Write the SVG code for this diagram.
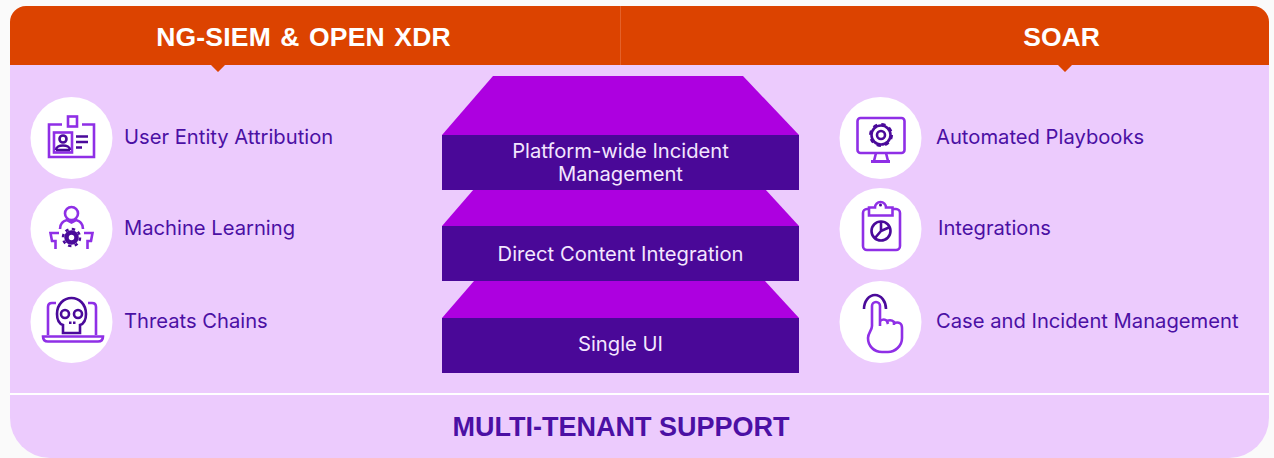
<svg xmlns="http://www.w3.org/2000/svg" width="1274" height="458" viewBox="0 0 1274 458">
<style>
.head{font-family:"Liberation Sans",Arial,sans-serif;font-weight:700;font-size:26.5px;fill:#fff;text-anchor:middle}
.lab{font-family:Inter,"Liberation Sans",sans-serif;font-size:20.2px;fill:#4b10a4}
.stk{font-family:Inter,"Liberation Sans",sans-serif;font-size:20.2px;fill:#f3e6ff;text-anchor:middle}
.top{fill:#ad00e0}.front{fill:#4a0898}
.c{fill:#fff}
.p{fill:none;stroke:#8f2fe6;stroke-width:2.6}
.d{fill:none;stroke:#4a0a9a;stroke-width:2.6}
</style>
<rect width="1274" height="458" fill="#fafafa"/>
<g id="panel">
<path d="M10 60H1269V418a40 40 0 0 1-40 40H50a40 40 0 0 1-40-40Z" fill="#eccbfd"/>
<rect x="10" y="393" width="1259" height="2" fill="#fff"/>
<path d="M10 65V22a16 16 0 0 1 16-16H1253a16 16 0 0 1 16 16V65Z" fill="#dc4300"/>
<path d="M211 65h14l-7 7ZM1058 65h14l-7 7Z" fill="#dc4300"/>
<rect x="620" y="6" width="1" height="59" fill="#e4612a"/>
<text class="head" x="303.500" y="46" letter-spacing="0.200" word-spacing="1.800">NG-SIEM &amp; OPEN XDR</text>
<text class="head" x="1061.500" y="46">SOAR</text>
<text x="621" y="436" font-family="'Liberation Sans',Arial,sans-serif" font-weight="700" font-size="27" fill="#4b10a4" text-anchor="middle">MULTI-TENANT SUPPORT</text>
</g>
<g id="stack">
<g id="layer-3"><path class="top" d="M442 318 474 281H765L799 318Z"/><rect class="front" x="442" y="318" width="357" height="55"/><text class="stk" x="620.500" y="351">Single UI</text></g>
<g id="layer-2"><path class="top" d="M442 226 474 189H765L799 226Z"/><rect class="front" x="442" y="226" width="357" height="55"/><text class="stk" x="620.500" y="261">Direct Content Integration</text></g>
<g id="layer-1"><path class="top" d="M442 135 493 76H743L799 135Z"/><rect class="front" x="442" y="135" width="357" height="55"/><text class="stk" x="620.500" y="158">Platform-wide Incident</text><text class="stk" x="620.500" y="181">Management</text></g>
</g>
<g id="user-entity">
<circle class="c" cx="71.500" cy="138" r="41"/>
<path class="p" d="M62 124.500H49V157H94V124.500H82"/>
<rect class="p" x="68" y="116.500" width="9" height="10"/>
<rect class="p" x="54" y="132.500" width="18" height="20"/>
<circle class="d" cx="63" cy="139" r="3.500" stroke-width="2"/>
<path class="d" stroke-width="2" d="M56 150c0-6 14-6 14 0M56 150H70"/>
<path class="d" d="M76 136.500H88M76 142H88M76 147.500H82"/>
<text class="lab" x="124" y="144">User Entity Attribution</text>
</g>
<g id="machine-learning">
<circle class="c" cx="71.500" cy="229" r="41"/>
<circle class="p" cx="71.500" cy="213.500" r="6.500"/>
<path class="p" d="M60 229c0-6 3-8 7-9l4.500 2.500L76 220c4 1 7 3 7 9M59 233H50.500L52 241H55.500V249M84 233H92.500L91 241H87.500V249"/>
<circle cx="71.500" cy="237.500" r="5" fill="none" stroke="#4a0a9a" stroke-width="4.500"/>
<circle cx="71.500" cy="237.500" r="8.500" fill="none" stroke="#4a0a9a" stroke-width="2.500" stroke-dasharray="3.340 3.340"/>
<text class="lab" x="124" y="235">Machine Learning</text>
</g>
<g id="threats-chains">
<circle class="c" cx="71.500" cy="322" r="41"/>
<path class="p" d="M48 335V307q0-4 4-4h4M96 335V307q0-4-4-4h-4"/>
<path class="p" d="M43 336.500H103q0 5-5 5H48q-5 0-5-5Z"/>
<path class="d" d="M57 314c0-10 7-16 14.500-16S86 304 86 314c0 7-3 10-6 11v8H63v-8c-3-1-6-4-6-11Z"/>
<circle class="d" cx="65" cy="314" r="4"/><circle class="d" cx="78" cy="314" r="4"/>
<path d="M69 321.500h2.500v2.500h-2.500ZM73 321.500h2.500v2.500h-2.500Z" fill="#4a0a9a"/>
<text class="lab" x="124" y="328">Threats Chains</text>
</g>
<g id="automated-playbooks">
<circle class="c" cx="880.500" cy="138" r="41"/>
<rect class="p" x="857.500" y="118" width="47" height="35" rx="3"/>
<path class="p" d="M876 153l-2 8M886 153l2 8"/>
<path d="M871 161.500h19" fill="none" stroke="#8f2fe6" stroke-width="3"/>
<circle class="d" cx="881" cy="135" r="4" stroke-width="2.200"/>
<circle class="d" cx="881" cy="135" r="9.500" stroke-width="2"/>
<circle cx="881" cy="135" r="11" fill="none" stroke="#4a0a9a" stroke-width="2" stroke-dasharray="4.300 4.340"/>
<text class="lab" x="936" y="144">Automated Playbooks</text>
</g>
<g id="integrations">
<circle class="c" cx="880.500" cy="229" r="41"/>
<rect class="p" x="863" y="209" width="37" height="41" rx="4"/>
<path d="M869 215.500V207.500h6a5.500 5.500 0 0 1 11 0H892.500V215.500Z" fill="#fff" stroke="#8f2fe6" stroke-width="2.600"/>
<circle cx="880.500" cy="205" r="1.500" fill="#4a0a9a"/>
<circle class="d" cx="881" cy="231" r="9.500" stroke-width="3"/>
<path class="d" d="M881 222V231L890 227M881 231 875 238"/>
<text class="lab" x="938" y="235">Integrations</text>
</g>
<g id="case-incident">
<circle class="c" cx="880.500" cy="322" r="41"/>
<path class="d" stroke-width="3" d="M864 309a11 14 0 1 1 22 0"/>
<path class="p" d="M872 326V306a4 4 0 0 1 8 0V326"/>
<path class="p" d="M880 321q4-3 7 0l1 3M887 321q4-2 7 1v3M894 323q8-2 8 5V338c0 8-7 14-14 14H882c-8 0-14-6-14-14 0-5 4-8 4-12"/>
<text class="lab" x="936" y="328">Case and Incident Management</text>
</g>
</svg>
